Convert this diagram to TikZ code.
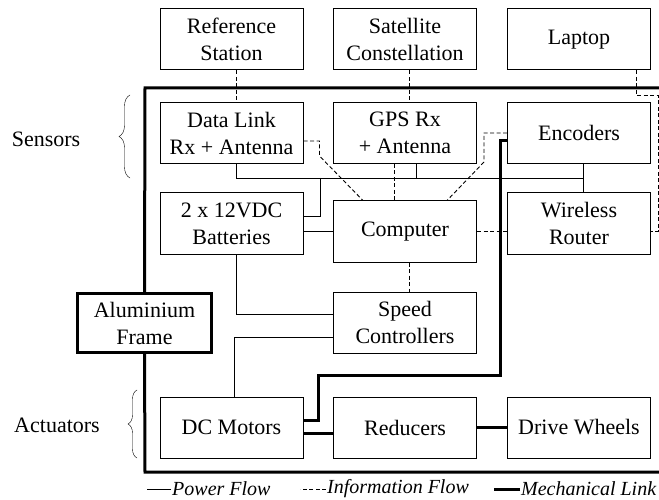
\documentclass[tikz,border=0pt]{standalone}
\usepackage{fontspec}
\setmainfont{Liberation Serif}
\usetikzlibrary{decorations.pathreplacing}

\tikzset{
  power/.style={line width=0.9pt},
  info/.style={line width=0.9pt, dash pattern=on 4pt off 2.5pt},
  mech/.style={line width=3pt},
  legend/.style={font=\fontsize{20}{24}\selectfont\itshape, inner sep=1pt}
}

\begin{document}
\begin{tikzpicture}[x=1pt,y=-1pt, font=\fontsize{22}{27}\selectfont]

      \useasboundingbox (0,0) rectangle (659,500);

      \begin{scope}[every node/.style={draw, line width=1pt, minimum width=143pt, minimum height=61pt, align=center, inner sep=0pt}]
        \node (ref)    at (231.5,39.5)  {Reference\\Station};
        \node (sat)    at (405,39.5)    {Satellite\\Constellation};
        \node (lap)    at (579,39.5)    {Laptop};
        \node (dl)     at (231.5,133)   {Data Link\\Rx + Antenna};
        \node (gps)    at (405,133)     {GPS Rx\\+ Antenna};
        \node (enc)    at (579,133)     {Encoders};
        \node (bat)    at (231.5,223.5) {2 x 12VDC\\Batteries};
        \node (comp)   at (405,231.5)   {Computer};
        \node (router) at (579,223.5)   {Wireless\\Router};
        \node (sc)     at (405,322.5)   {Speed\\Controllers};
        \node (dcm)    at (231.5,427.5) {DC Motors};
        \node (red)    at (405,427.5)   {Reducers};
        \node (wheel)  at (579,427.5)   {Drive Wheels};
        \node[line width=3pt, minimum width=134pt, minimum height=59pt] (frame) at (144.5,323) {Aluminium\\Frame};
      \end{scope}

      % group labels
      \node (sens) at (46,139)  {Sensors};
      \node (act)  at (57,425)  {Actuators};
      \draw[decorate, decoration={brace, amplitude=11pt}] (130,178) -- (130,95);
      \draw[decorate, decoration={brace, amplitude=9pt}]  (137,458) -- (137,390);

      % power flow
      \coordinate (j1) at (236,178);
      \coordinate (j2) at (320,178);
      \coordinate (j3) at (416,178);
      \coordinate (j4) at (583,178);
      \coordinate (j5) at (320,216);
      \coordinate (j6) at (236,314);
      \coordinate (j7) at (234,337);
      \draw[power] (dl.south -| j1) -- (j1) -- (j4);
      \draw[power] (gps.south -| j3) -- (j3);
      \draw[power] (enc.south -| j4) -- (router.north -| j4);
      \draw[power] (j2) -- (j5) -- (bat.east |- j5);
      \draw[power] (comp.west) -- (comp.west -| bat.east);
      \draw[power] (bat.south -| j6) -- (j6) -- (sc.west |- j6);
      \draw[power] (sc.west |- j7) -- (j7) -- (dcm.north -| j7);

      % information flow
      \draw[info] (ref.south -| j1) -- (dl.north -| j1);
      \draw[info] ([xshift=4pt]sat.south) -- ([xshift=4pt]gps.north);
      \draw[info] ([xshift=-11pt]gps.south) -- ([xshift=-11pt]comp.north);
      \draw[info] ([xshift=4pt]comp.south) -- ([xshift=4pt]sc.north);
      \draw[info] ([yshift=-8pt]dl.east) -- ++(16,0) -- ++(0,15) -- ([xshift=-42pt]comp.north);
      \draw[info] (enc.west) -- ++(-23,0) -- ++(0,29) -- ([xshift=42pt]comp.north);
      \draw[info] (comp.east) -- (router.west |- comp.east);
      \draw[info] ([xshift=57pt]lap.south) -- ++(0,25) -- ++(22,0) -- ++(0,136) -- (router.east |- comp.east);

      % mechanical links
      \coordinate (m1) at (318,375);
      \coordinate (m2) at (500,141);
      \draw[mech] (frame.north) -- (145,88) -- (659,88);
      \draw[mech] (frame.south) -- (145,472) -- (659,472);
      \draw[mech] ([yshift=7pt]dcm.east) -| (m1) -| (m2) -- (enc.west |- m2);
      \draw[mech] ([yshift=-6pt]dcm.east) -- ([yshift=-6pt]red.west);
      \draw[mech] (red) -- (wheel);

      % legend
      \node[legend, anchor=west] (lpow)  at (171,489) {Power Flow};
      \node[legend, anchor=west] (linf)  at (326,489) {Information Flow};
      \node[legend, anchor=west] (lmech) at (520,489) {Mechanical Link};
      \draw[power] (lpow.west) -- ++(-24,0);
      \draw[info]  (linf.west) -- ++(-26,0);
      \draw[mech]  (lmech.west) -- ++(-26,0);

\end{tikzpicture}
\end{document}
